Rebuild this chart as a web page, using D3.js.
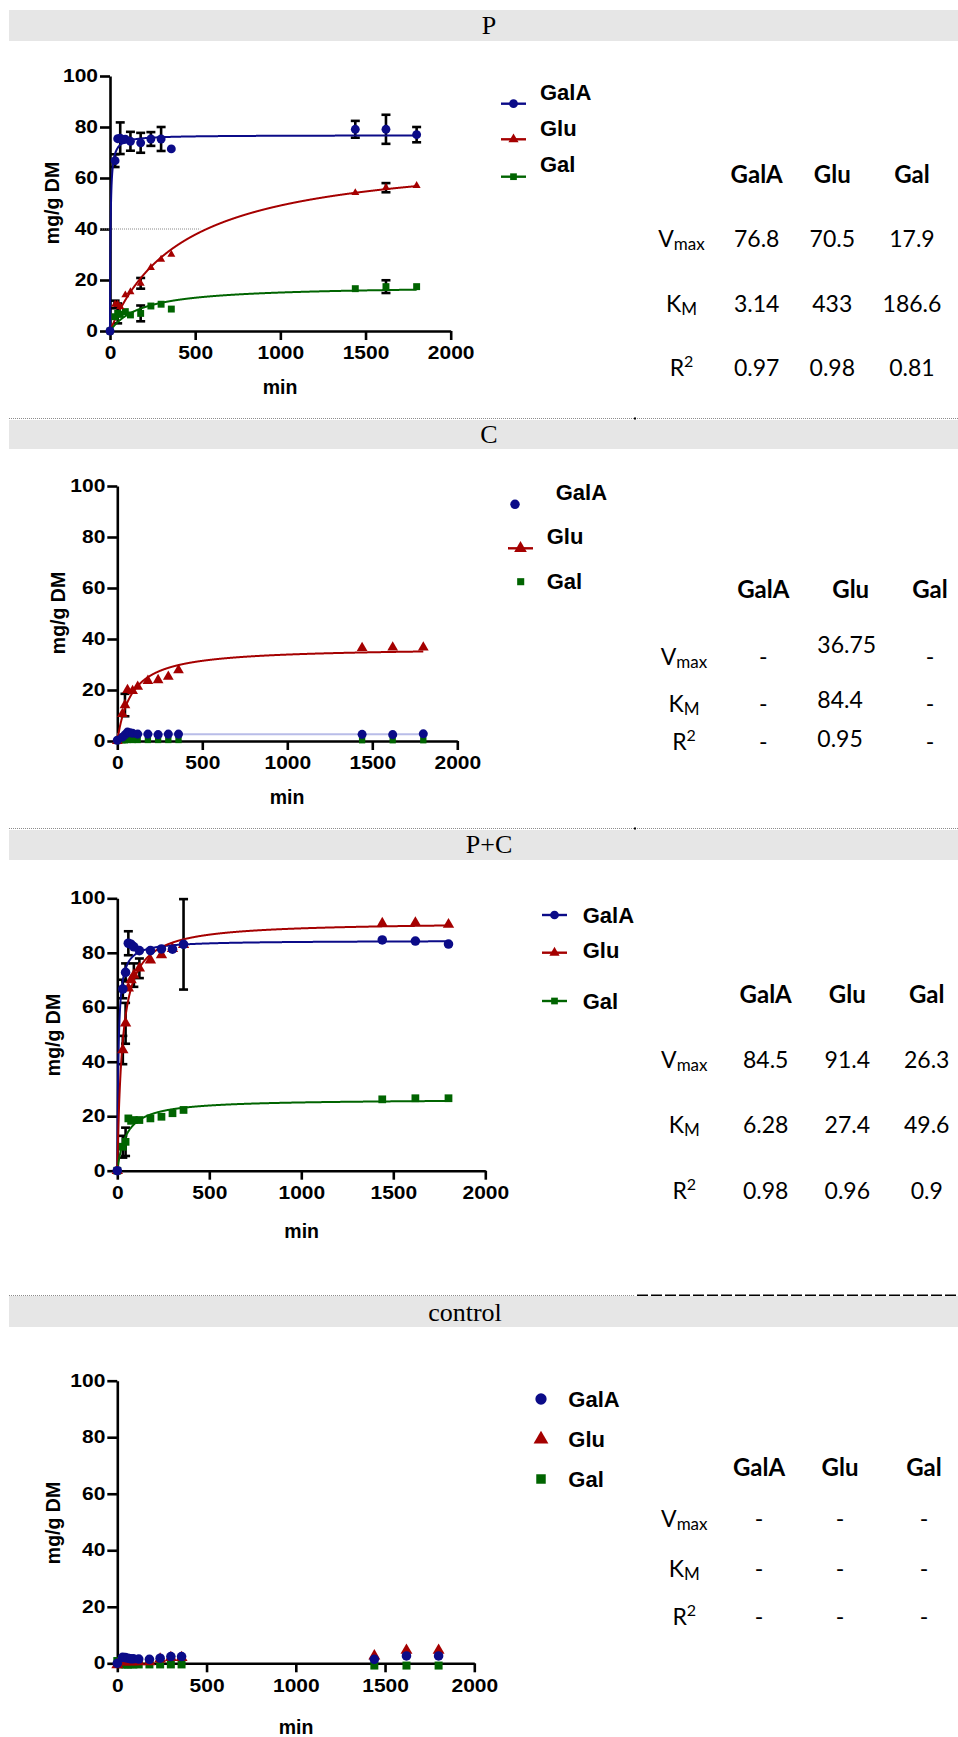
<!DOCTYPE html>
<html>
<head>
<meta charset="utf-8">
<script src="https://cdn.jsdelivr.net/npm/d3@7"></script>
<style>
body{margin:0;background:#fff;}
</style>
</head>
<body>
<script>
// sampling times (min), shared by all panels
var times = [0, 30, 45, 60, 75, 90, 120, 180, 240, 300, 360, 1440, 1620, 1800];
var sugars = ["GalA", "Glu", "Gal"];
var yTicks = [0, 20, 40, 60, 80, 100];
var xTicks = [0, 500, 1000, 1500, 2000];
var panelNames = ["P", "C", "P+C", "control"];

// P
var pGalA    = [0, 66.8, 75.4, 75.6, 75.0, 75.2, 74.4, 73.8, 75.3, 75.3, 71.4, 79.1, 79.1, 77.0];
var pGalAErr = [0, 2.5, 0, 6.2, 0, 0, 3.7, 3.9, 2.7, 4.7, 0, 3.3, 5.7, 3.0];
var pGlu     = [0, 10.4, 10.4, 9.5, null, 14.1, 15.3, 18.7, 24.8, 28.1, 30.0, 54.2, 56.2, 57.0];
var pGluErr  = [0, 1.5, 0, 0, 0, 0, 0, 2.1, 0, 0, 0, 0, 1.8, 0];
var pGal     = [0, 5.6, 6.9, 6.5, null, 7.6, 6.3, 6.9, 9.8, 10.5, 8.6, 16.6, 17.4, 17.4];
var pGalErr  = [0, 0, 3.9, 0, 0, 0, 0, 3.1, 0, 0, 0, 0, 2.5, 0];
var pVmax = [76.8, 70.5, 17.9];
var pKm   = [3.14, 433, 186.6];
var pR2   = [0.97, 0.98, 0.81];

// C
var cGalA    = [0.3, 1.5, 2.4, 3.5, 3.2, 3.0, 2.7, 2.7, 2.5, 2.7, 2.7, 2.6, 2.5, 2.8];
var cGalAErr = [0, 0, 0, 0, 0, 0, 0, 0, 0, 0, 0, 0, 0, 0];
var cGlu     = [0, 10.6, 14.1, 20.0, null, 19.6, 21.3, 23.6, 23.9, 25.2, 27.8, 36.5, 36.7, 36.7];
var cGluErr  = [0, 0, 4.4, 0, 0, 0, 0, 0, 0, 0, 0, 0, 0, 0];
var cGal     = [0, 0.3, 0.3, 0.4, null, 0.4, 0.4, 0.4, 0.4, 0.4, 0.4, 0.3, 0.3, 0.3];
var cGalErr  = [0, 0, 0, 0, 0, 0, 0, 0, 0, 0, 0, 0, 0, 0];
var cGalALevel = 2.6;
var cVmax = [null, 36.75, null];
var cKm   = [null, 84.4, null];
var cR2   = [null, 0.95, null];

// P+C
var pcGalA    = [0, 66.7, 72.8, 83.5, 83.1, 82.2, 80.8, 80.8, 81.4, 81.3, 83.1, 84.7, 84.3, 83.2];
var pcGalAErr = [0, 3.4, 3.3, 4.4, 0, 0, 0, 0, 0, 0, 16.6, 0, 0, 0];
var pcGlu     = [0, 44.3, 54.1, 67.0, 70.0, 71.8, 74.3, 77.3, 79.2, 81.5, 83.0, 90.8, 91.0, 90.4];
var pcGluErr  = [0, 5.2, 7.5, 0, 0, 4.3, 3.6, 0, 0, 0, 0, 0, 0, 0];
var pcGal     = [0, 8.8, 10.6, 19.2, 18.3, 18.6, 18.6, 19.2, 19.8, 21.1, 22.3, 26.2, 26.6, 26.6];
var pcGalErr  = [0, 4.0, 5.2, 0, 0, 0, 0, 0, 0, 0, 0, 0, 0, 0];
var pcVmax = [84.5, 91.4, 26.3];
var pcKm   = [6.28, 27.4, 49.6];
var pcR2   = [0.98, 0.96, 0.9];

// control
var ctGalA = [0, 2.1, 2.0, 1.8, 1.6, 1.6, 1.5, 1.4, 1.8, 2.4, 2.4, 1.4, 2.6, 2.6];
var ctGlu  = [-0.5, 0.5, 0.5, 0.5, 0.5, 0.5, 0.5, 0.5, 1.5, 2.0, 2.0, 2.6, 4.6, 4.6];
var ctGal  = [0.8, -0.4, -0.4, -0.4, -0.4, -0.4, -0.4, -0.4, -0.4, -0.4, -0.4, -0.8, -0.8, -0.8];
var ctVmax = [null, null, null];
var ctKm   = [null, null, null];
var ctR2   = [null, null, null];

var noErr = times.map(function(){ return 0; });

var panels = [
  {vals:[pGalA, pGlu, pGal], errs:[pGalAErr, pGluErr, pGalErr], vmax:pVmax, km:pKm, r2:pR2, fit:[1,1,1]},
  {vals:[cGalA, cGlu, cGal], errs:[cGalAErr, cGluErr, cGalErr], vmax:cVmax, km:cKm, r2:cR2, fit:["flat",1,0]},
  {vals:[pcGalA, pcGlu, pcGal], errs:[pcGalAErr, pcGluErr, pcGalErr], vmax:pcVmax, km:pcKm, r2:pcR2, fit:[1,1,1]},
  {vals:[ctGalA, ctGlu, ctGal], errs:[noErr, noErr, noErr], vmax:ctVmax, km:ctKm, r2:ctR2, fit:[0,0,0]}
];

// page layout of each panel
var layout = [
  {band:10, bandH:31, titleX:489, titleY:34, x:[110,450.7], y:[331,76], ylab:[52,203], xlab:[280,387],
   sym:[62,28,48],
   leg:{mx:[513.5,513.5,513.5], half:12.5, sy:[103.7,139.3,176.7], line:[1,1,1], lx:[540,540,540], ly:[92,128,164]},
   tab:{col:[756.7,832.3,912], head:182.7, rowX:681.5, rowY:[246.7,311.7,375.7]}},
  {band:420, bandH:29, titleX:489, titleY:443, x:[117.3,457.3], y:[741,486], ylab:[58,613], xlab:[287,797],
   sym:[64,50,40],
   leg:{mx:[515,520.5,520.7], half:12.5, sy:[504.3,548.3,581.7], line:[0,1,0], lx:[555.7,546.7,546.7], ly:[492.3,536.7,581.7]},
   tab:{col:[763.3,850.7,930], head:598.3, rowX:684, rowY:[665,711.7,750], leftX:817.3, leftY:[653.3,707.7,746.7]}},
  {band:830, bandH:30, titleX:489, titleY:853, x:[117.3,485.3], y:[1170.7,898.3], ylab:[53,1035], xlab:[301.7,1230.7],
   sym:[72,56,60],
   leg:{mx:[554.5,554.5,554.5], half:13.5, sy:[915,952.7,1001], line:[1,1,1], lx:[582.7,582.7,582.7], ly:[915,950,1001]},
   tab:{col:[765.7,847.3,926.7], head:1002.7, rowX:684.3, rowY:[1068.3,1133.3,1199.3]}},
  {band:1296, bandH:31, titleX:465, titleY:1320.7, x:[117.3,474.3], y:[1663.3,1380.7], ylab:[53,1523], xlab:[296,1726.7],
   sym:[72,62,64],
   leg:{mx:[541,541,541], half:0, sy:[1399,1439.3,1479], line:[0,0,0], lx:[568.3,568.3,568.3], ly:[1399,1439,1479]},
   tab:{col:[759,840,924], head:1476, rowX:684.3, rowY:[1526.7,1576.7,1625]}}
];

var colors = ["#0b0b88", "#a50000", "#006400"];
var symbols = [d3.symbolCircle, d3.symbolTriangle, d3.symbolSquare];
var tickFont = "'Liberation Sans', Arial, sans-serif";
var legFont = "'Liberation Sans Narrow', 'Arial Narrow', 'Liberation Sans', sans-serif";
var tabFont = "Lato, 'Open Sans', sans-serif";
var stretch = 1.2; // tick labels are drawn wide in the original

var svg = d3.select("body").append("svg")
  .attr("width", 958)
  .attr("height", 1737)
  .style("display", "block");

// separators
[418.5, 828.5].forEach(function(yy){
  svg.append("line")
    .attr("x1", 9).attr("x2", 958).attr("y1", yy).attr("y2", yy)
    .attr("stroke", "#8c8c8c").attr("stroke-width", 1).attr("stroke-dasharray", "1,1");
  svg.append("rect").attr("x", 634).attr("y", yy - 1).attr("width", 2).attr("height", 2).attr("fill", "#000");
});
svg.append("line")
  .attr("x1", 9).attr("x2", 635).attr("y1", 1295.5).attr("y2", 1295.5)
  .attr("stroke", "#8c8c8c").attr("stroke-width", 1).attr("stroke-dasharray", "1,1");
svg.append("line")
  .attr("x1", 637).attr("x2", 958).attr("y1", 1295.5).attr("y2", 1295.5)
  .attr("stroke", "#000").attr("stroke-width", 2).attr("stroke-dasharray", "11,3");

panels.forEach(function(pd, pi){
  var L = layout[pi];

  // title band
  svg.append("rect")
    .attr("x", 9).attr("y", L.band).attr("width", 949).attr("height", L.bandH)
    .attr("fill", "#e6e6e6");
  svg.append("text")
    .attr("x", L.titleX).attr("y", L.titleY)
    .attr("text-anchor", "middle")
    .style("font-family", "'Liberation Serif', 'Times New Roman', serif")
    .style("font-size", "26px")
    .text(panelNames[pi]);

  var x = d3.scaleLinear().domain([0, 2000]).range(L.x);
  var y = d3.scaleLinear().domain([0, 100]).range(L.y);

  var g = svg.append("g");

  // axes
  var ax = g.append("g")
    .attr("transform", "translate(0," + L.y[0] + ")")
    .call(d3.axisBottom(x).tickValues(xTicks).tickFormat(d3.format("d"))
      .tickSize(9).tickSizeOuter(0).tickPadding(7));
  var ay = g.append("g")
    .attr("transform", "translate(" + L.x[0] + ",0)")
    .call(d3.axisLeft(y).tickValues(yTicks).tickFormat(d3.format("d"))
      .tickSize(10).tickSizeOuter(0).tickPadding(2));
  [ax, ay].forEach(function(a){
    a.selectAll("path,line").attr("stroke", "#000").attr("stroke-width", 2.6);
    a.selectAll("text")
      .attr("fill", "#000")
      .attr("transform", "scale(" + stretch + ",1)")
      .style("font-family", tickFont)
      .style("font-weight", "bold")
      .style("font-size", "17.5px");
  });
  ay.selectAll("text").attr("x", -12 / stretch);

  g.append("text")
    .attr("transform", "translate(" + L.ylab[0] + "," + L.ylab[1] + ") rotate(-90)")
    .attr("text-anchor", "middle")
    .attr("dominant-baseline", "central")
    .style("font-family", tickFont)
    .style("font-weight", "bold")
    .style("font-size", "19.5px")
    .text("mg/g DM");
  g.append("text")
    .attr("x", L.xlab[0]).attr("y", L.xlab[1])
    .attr("text-anchor", "middle")
    .attr("dominant-baseline", "central")
    .style("font-family", tickFont)
    .style("font-weight", "bold")
    .style("font-size", "19.5px")
    .text("min");

  // stray guide line in the first panel
  if (pi === 0) {
    g.append("line")
      .attr("x1", L.x[0] - 10).attr("x2", x(530))
      .attr("y1", y(40)).attr("y2", y(40))
      .attr("stroke", "#888").attr("stroke-width", 1).attr("stroke-dasharray", "1,1");
  }

  // error bars
  pd.vals.forEach(function(vals, si){
    times.forEach(function(t, k){
      var v = vals[k], e = pd.errs[si][k];
      if (v == null || !e) return;
      var xx = x(t);
      g.append("line").attr("x1", xx).attr("x2", xx).attr("y1", y(v - e)).attr("y2", y(v + e))
        .attr("stroke", "#000").attr("stroke-width", 2.6);
      [v - e, v + e].forEach(function(c){
        g.append("line").attr("x1", xx - 4.5).attr("x2", xx + 4.5).attr("y1", y(c)).attr("y2", y(c))
          .attr("stroke", "#000").attr("stroke-width", 2.6);
      });
    });
  });

  // fitted curves (Michaelis-Menten with the table parameters)
  var ts = d3.range(0, 1801, 1);
  pd.fit.forEach(function(f, si){
    if (!f) return;
    var line = d3.line().x(function(t){ return x(t); });
    if (f === "flat") {
      line.y(function(){ return y(cGalALevel); });
      g.append("path").datum([0, 1800]).attr("d", line)
        .attr("fill", "none").attr("stroke", "#b9bde8").attr("stroke-width", 2);
    } else {
      var vm = pd.vmax[si], km = pd.km[si];
      line.y(function(t){ return y(vm * t / (km + t)); });
      g.append("path").datum(ts).attr("d", line)
        .attr("fill", "none").attr("stroke", colors[si]).attr("stroke-width", 2);
    }
  });

  // markers: Gal, Glu, GalA on top
  [2, 1, 0].forEach(function(si){
    var sym = d3.symbol().type(symbols[si]).size(L.sym[si]);
    times.forEach(function(t, k){
      var v = pd.vals[si][k];
      if (v == null) return;
      g.append("path")
        .attr("d", sym())
        .attr("transform", "translate(" + x(t) + "," + y(v) + ")")
        .attr("fill", colors[si]);
    });
  });

  // legend
  var lg = L.leg;
  sugars.forEach(function(s, si){
    if (lg.line[si]) {
      svg.append("line")
        .attr("x1", lg.mx[si] - 12.5).attr("x2", lg.mx[si] + 12.5)
        .attr("y1", lg.sy[si]).attr("y2", lg.sy[si])
        .attr("stroke", colors[si]).attr("stroke-width", 2.4);
    }
    var big = pi === 3 ? [100, 95, 90] : (pi === 1 ? [70, 70, 50] : [60, 45, 45]);
    svg.append("path")
      .attr("d", d3.symbol().type(symbols[si]).size(big[si])())
      .attr("transform", "translate(" + lg.mx[si] + "," + lg.sy[si] + ")")
      .attr("fill", colors[si]);
    svg.append("text")
      .attr("x", lg.lx[si]).attr("y", lg.ly[si])
      .attr("dominant-baseline", "central")
      .style("font-family", legFont)
      .style("font-weight", "bold")
      .style("font-size", "22px")
      .text(s);
  });

  // parameter table
  var tb = L.tab;
  sugars.forEach(function(s, ci){
    svg.append("text")
      .attr("x", tb.col[ci]).attr("y", tb.head)
      .attr("text-anchor", "middle")
      .style("font-family", tabFont)
      .style("font-weight", "bold")
      .style("font-size", "24px")
      .text(s);
  });
  var rows = [
    {main:"V", sub:"max", sup:null, vals:pd.vmax},
    {main:"K", sub:"M", sup:null, vals:pd.km},
    {main:"R", sub:null, sup:"2", vals:pd.r2}
  ];
  rows.forEach(function(r, ri){
    var t = svg.append("text")
      .attr("x", tb.rowX).attr("y", tb.rowY[ri])
      .attr("text-anchor", "middle")
      .style("font-family", tabFont)
      .style("font-size", "23px");
    t.append("tspan").text(r.main);
    if (r.sub) t.append("tspan").attr("dy", 3).style("font-size", "17px").text(r.sub);
    if (r.sup) t.append("tspan").attr("dy", -9).style("font-size", "16px").text(r.sup);

    r.vals.forEach(function(v, ci){
      var txt = svg.append("text")
        .style("font-family", tabFont)
        .style("font-size", "23px");
      if (v != null && tb.leftX) {
        txt.attr("x", tb.leftX).attr("y", tb.leftY[ri]).attr("text-anchor", "start");
      } else {
        txt.attr("x", tb.col[ci]).attr("y", tb.rowY[ri]).attr("text-anchor", "middle");
      }
      txt.text(v == null ? "-" : String(v));
    });
  });
});
</script>
</body>
</html>
